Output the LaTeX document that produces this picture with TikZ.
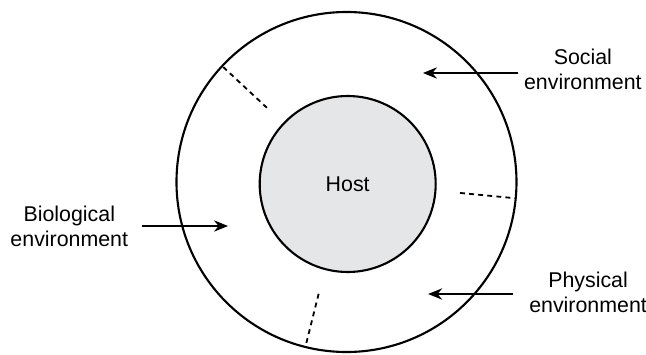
\documentclass[tikz,border=0pt]{standalone}
\usepackage{fontspec}
\setmainfont{Liberation Sans}
\usepackage{tikz}
\usetikzlibrary{arrows.meta, calc}
\definecolor{hostgray}{RGB}{229,230,232}

\begin{document}
\begin{tikzpicture}[
        ring/.style={line width=1.5pt},
        zone/.style={line width=1.3pt, dash pattern=on 3.5pt off 3pt},
        push/.style={line width=1.5pt, -{Stealth[length=10pt,width=8pt]}},
        envtext/.style={align=center, font=\fontsize{15.2}{17.8}\selectfont}
    ]
        \useasboundingbox (-8.6625,-4.3) rectangle (7.4875,4.55);
        \draw[ring] (0,0) circle (4.25);
        \node[ring, draw, fill=hostgray, circle, minimum size=4.4cm, inner sep=0pt,
              font=\fontsize{15.2}{17.8}\selectfont] (host) at (0.03,-0.05) {Host};
        \draw[zone] (137:2.72) -- (137:4.25);
        \draw[zone] (-5.5:2.85) -- (-5.5:4.25);
        \draw[zone] (-104:2.88) -- (-104:4.25);
        \node[envtext] (social) at (5.91,2.81) {Social\\environment};
        \node[envtext] (biological) at (-6.93,-1.11) {Biological\\environment};
        \node[envtext] (physical) at (6.04,-2.76) {Physical\\environment};
        \coordinate (socialtail) at (4.29,2.725);
        \coordinate (socialhead) at (1.91,2.725);
        \coordinate (biotail) at (-5.11,-1.1);
        \coordinate (biohead) at (-2.96,-1.1);
        \coordinate (phystail) at (4.16,-2.8);
        \coordinate (physhead) at (2.04,-2.8);
        \draw[push] (socialtail) -- (socialhead);
        \draw[push] (biotail) -- (biohead);
        \draw[push] (phystail) -- (physhead);
    \end{tikzpicture}
\end{document}
